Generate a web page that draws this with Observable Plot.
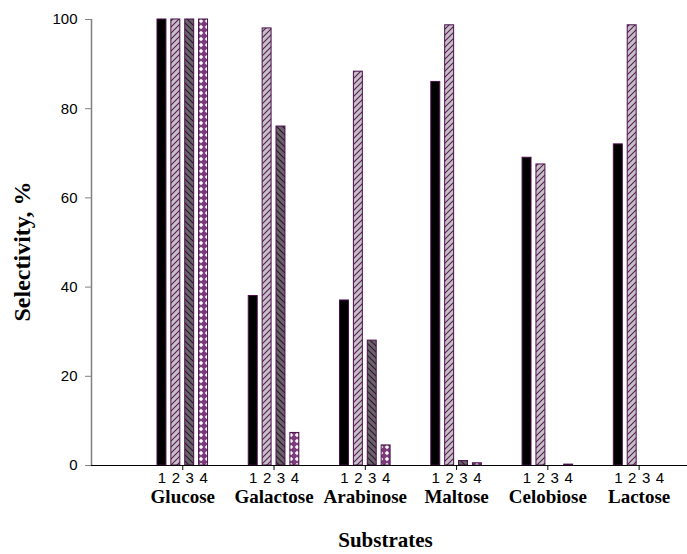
<!DOCTYPE html>
<html><head><meta charset="utf-8">
<script src="https://cdn.jsdelivr.net/npm/d3@7"></script>
<script src="https://cdn.jsdelivr.net/npm/@observablehq/plot@0.6"></script>
<style>body{margin:0;background:#fff}</style>
</head><body><div id="chart"></div>
<script>
// ---- data ----
const substrates = ["Glucose", "Galactose", "Arabinose", "Maltose", "Celobiose", "Lactose"];
const seriesLabels = ["1", "2", "3", "4"];
const series1 = [100, 38, 37, 86, 69, 72];
const series2 = [100, 98, 88.3, 98.7, 67.5, 98.7];
const series3 = [100, 76, 28, 1, 0, 0];
const series4 = [100, 7.3, 4.5, 0.5, 0.2, 0];
const yTicks = [0, 20, 40, 60, 80, 100];
const xTitle = "Substrates";
const yTitle = "Selectivity, %";

// ---- build table ----
const allSeries = [series1, series2, series3, series4];
const fills = ["#000000", "url(#pat2)", "url(#pat3)", "url(#pat4)"];
const step = 0.152, half = 0.049;
const rows = [];
substrates.forEach((sub, i) => {
  allSeries.forEach((vals, j) => {
    const xc = i + (j - 1.5) * step;
    rows.push({sub, i, j, label: seriesLabels[j], value: vals[i], xc, x1: xc - half, x2: xc + half, fill: fills[j]});
  });
});
const groupIdx = substrates.map((d, i) => i);
const serif = "Liberation Serif, Times New Roman, serif";

const chart = Plot.plot({
  width: 687,
  height: 554,
  marginLeft: 91,
  marginRight: 0,
  marginTop: 19,
  marginBottom: 89,
  style: {fontFamily: "Liberation Sans, Arial, sans-serif", background: "#fff", color: "#000"},
  x: {type: "linear", domain: [-1, 5.53], axis: null},
  y: {domain: [0, 100], axis: null},
  color: {type: "identity"},
  marks: [
    Plot.rect(rows, {x1: "x1", x2: "x2", y1: 0, y2: "value", fill: "fill", stroke: "#4a0f4a", strokeWidth: 1}),
    Plot.ruleY([0], {stroke: "#000", strokeWidth: 1}),
    Plot.ruleX([-1], {stroke: "#808080", strokeWidth: 1.5}),
    Plot.axisY(yTicks, {tickSize: 6, tickPadding: 8, stroke: "#808080", fill: "#000", fontSize: 15, label: null, tickFormat: d => String(d)}),
    Plot.axisX(groupIdx, {tickSize: 5, tickFormat: () => "", stroke: "#000", label: null}),
    Plot.text(rows, {x: "xc", y: 0, text: "label", dy: 13, fontSize: 15, fill: "#000"}),
    Plot.text(substrates, {x: (d, i) => i, y: 0, text: d => d, dy: 31, fontSize: 19, fontWeight: "bold", fontFamily: serif, fill: "#000"}),
    Plot.text([xTitle], {frameAnchor: "bottom", textAnchor: "middle", lineAnchor: "middle", dx: -4, dy: 75, fontSize: 21, fontWeight: "bold", fontFamily: serif, fill: "#000"}),
    Plot.text([yTitle], {frameAnchor: "left", textAnchor: "middle", lineAnchor: "middle", rotate: -90, dx: -69, dy: 9, fontSize: 24, fontWeight: "bold", fontFamily: serif, fill: "#000"})
  ]
});

const ns = "http://www.w3.org/2000/svg";
const defs = document.createElementNS(ns, "defs");
defs.innerHTML = `
<pattern id="pat2" patternUnits="userSpaceOnUse" width="6" height="6">
  <rect width="6" height="6" fill="#c4c0c4"/>
  <path d="M0,6 L6,0 M-1,1 L1,-1 M5,7 L7,5" stroke="#5a1a5a" stroke-width="1.1"/>
</pattern>
<pattern id="pat3" patternUnits="userSpaceOnUse" width="6" height="6">
  <rect width="6" height="6" fill="#666666"/>
  <path d="M0,0 L6,6 M-1,5 L1,7 M5,-1 L7,1" stroke="#3a0a3a" stroke-width="1.1"/>
</pattern>
<pattern id="pat4" patternUnits="userSpaceOnUse" width="6" height="6">
  <rect width="6" height="6" fill="#7b3b7b"/>
  <path d="M3,0.8 L5.2,3 L3,5.2 L0.8,3 Z" fill="#ffffff"/>
</pattern>`;
chart.insertBefore(defs, chart.firstChild);
document.getElementById("chart").appendChild(chart);
</script>
</body></html>
